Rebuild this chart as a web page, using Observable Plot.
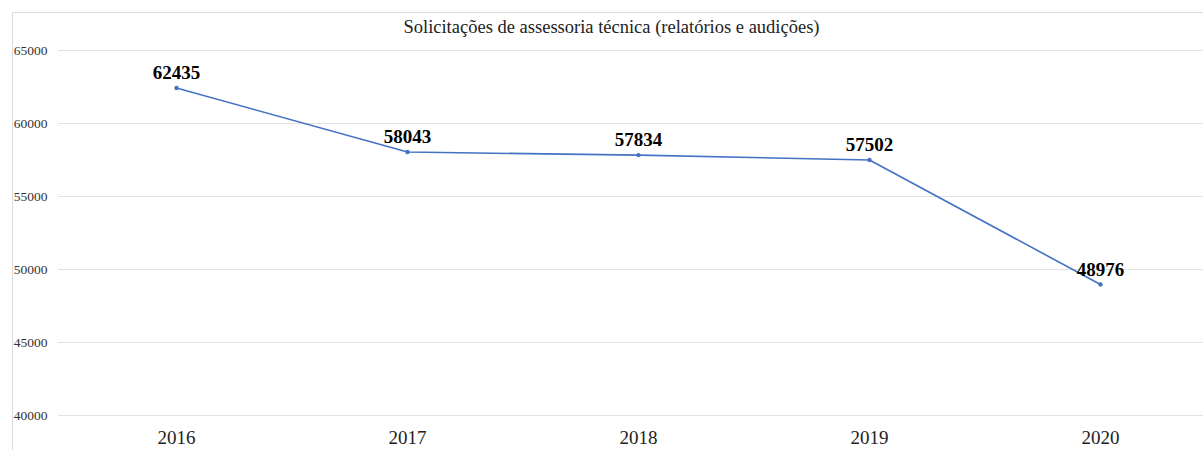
<!DOCTYPE html>
<html>
<head>
<meta charset="utf-8">
<script src="https://cdn.jsdelivr.net/npm/d3@7"></script>
<script src="https://cdn.jsdelivr.net/npm/@observablehq/plot@0.6"></script>
<style>
  html, body { margin: 0; padding: 0; background: #fff; }
  #wrap { position: relative; width: 1203px; height: 450px; overflow: hidden; }
  #frame { position: absolute; left: 12px; top: 12px; width: 1300px; height: 500px;
           border-left: 1px solid #dcdcdc; border-top: 1px solid #dcdcdc; }
  #title { position: absolute; left: 0; width: 1223px; top: 17px; text-align: center;
           font-family: "Liberation Serif", serif; font-size: 18.5px; line-height: 20px; color: #222; }
  #chart { position: absolute; left: 0; top: 0; }
</style>
</head>
<body>
<div id="wrap">
  <div id="frame"></div>
  <div id="chart"></div>
  <div id="title">Solicitações de assessoria técnica (relatórios e audições)</div>
</div>
<script>
const years = ["2016", "2017", "2018", "2019", "2020"];
const values = [62435, 58043, 57834, 57502, 48976];
const yTicks = [40000, 45000, 50000, 55000, 60000, 65000];

const data = years.map((y, i) => ({year: y, value: values[i]}));

const chart = Plot.plot({
  width: 1203,
  height: 450,
  marginLeft: 58,
  marginRight: 0,
  marginTop: 50,
  marginBottom: 35,
  style: {fontFamily: "'Liberation Serif', serif", background: "transparent"},
  x: {type: "point", domain: years, range: [175, 1101], padding: 0, label: null},
  y: {domain: [40000, 65000], label: null},
  marks: [
    Plot.gridY(yTicks, {stroke: "#e2e2e2", strokeOpacity: 1, strokeWidth: 1}),
    Plot.axisY(yTicks, {tickSize: 0, tickPadding: 11, fontSize: 13.5, fill: "#333", tickFormat: d => String(d), label: null}),
    Plot.axisX(years, {tickSize: 0, tickPadding: 15, fontSize: 19, fill: "#222", label: null}),
    Plot.line(data, {x: "year", y: "value", stroke: "#4472C4", strokeWidth: 1.6}),
    Plot.dot(data, {x: "year", y: "value", r: 2.2, fill: "#4472C4", stroke: "none"}),
    Plot.text(data, {x: "year", y: "value", text: d => String(d.value), dy: -15,
      fontSize: 19, fontWeight: "bold", fill: "#000"})
  ]
});
document.getElementById("chart").appendChild(chart);
</script>
</body>
</html>
